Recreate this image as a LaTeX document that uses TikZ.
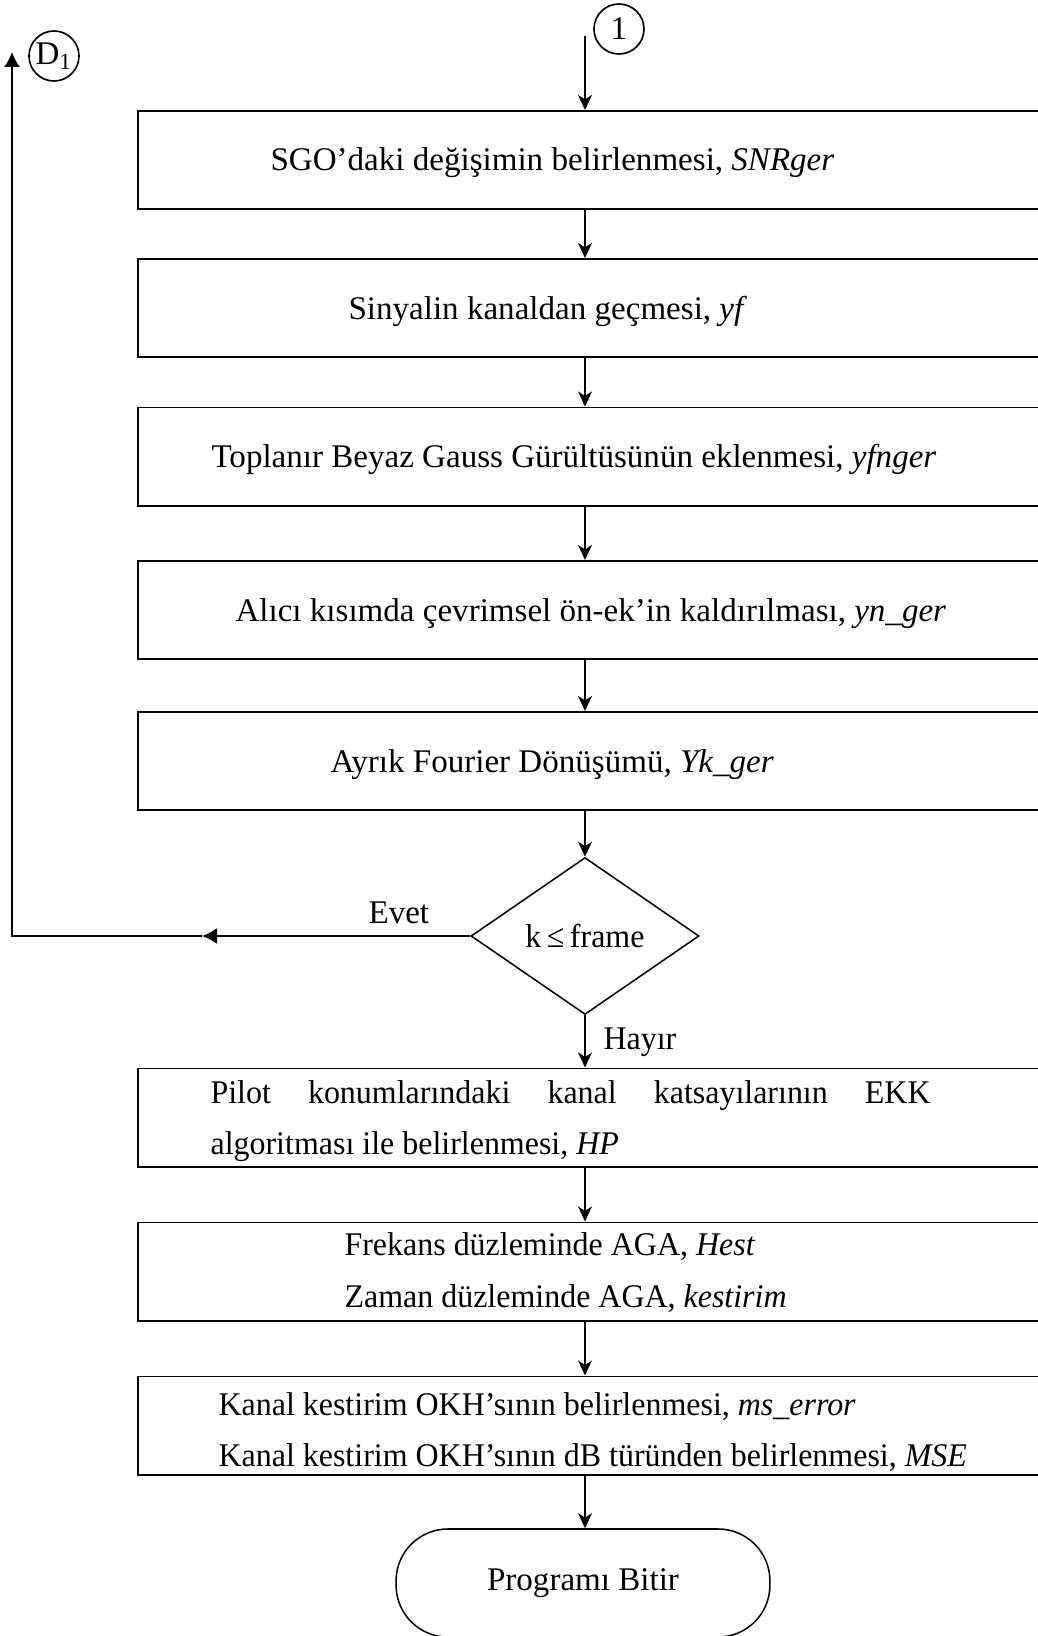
\documentclass[tikz,border=0pt]{standalone}
\usepackage{fontspec}
\setmainfont{Liberation Serif}
\newfontfamily\narrowfont{Liberation Serif}[FakeStretch=0.967]
\usepackage{tikz}
\usetikzlibrary{arrows.meta}
\usetikzlibrary{positioning}
\usetikzlibrary{shapes.geometric}

\begin{document}
\begin{tikzpicture}[x=0.36pt, y=-0.36pt, >={Stealth[length=5.4pt,width=5pt,inset=1.6pt]},
box/.style={draw,line width=0.7pt,inner sep=0pt,minimum width=331.9pt,minimum height=35.3pt},
txt/.style={inner sep=0pt,anchor=base west},
ring/.style={draw,circle,line width=0.6pt,inner sep=0pt,minimum size=18pt},
flow/.style={->,line width=0.7pt},
back/.style={-{Latex[length=5.4pt,width=5.8pt]},line width=0.7pt}]

\fontsize{11.9}{14.3}\selectfont
\useasboundingbox (0,0) rectangle (1038,1636);
\clip (0,0) rectangle (1038,1636);

% baglanti noktalari
\node [ring] (one) at (619,29) {1};
\node [ring] (d1) at (54,56) {D\textsubscript{1}};
\coordinate (axis) at (585,36);

% islem kutulari
\node [box] (b1) at (599,160) {};
\node [box] (b2) at (599,308) {};
\node [box] (b3) at (599,456.5) {};
\node [box] (b4) at (599,610) {};
\node [box] (b5) at (599,761) {};
\node [box] (b6) at (599,1117.5) {};
\node [box] (b7) at (599,1271.5) {};
\node [box] (b8) at (599,1425.5) {};

\node [txt] (t1) at (270,171) {SGO’daki değişimin belirlenmesi, \textit{SNRger}};
\node [txt] (t2) at (348,319) {Sinyalin kanaldan geçmesi, \textit{yf}};
\node [txt] (t3) at (211,467) {Toplanır Beyaz Gauss Gürültüsünün eklenmesi, \textit{yfnger}};
\node [txt] (t4) at (235,621) {Alıcı kısımda çevrimsel ön-ek’in kaldırılması, \textit{yn\_ger}};
\node [txt] (t5) at (330,772) {Ayrık Fourier Dönüşümü, \textit{Yk\_ger}};

% karar
\node [draw,diamond,line width=0.55pt,inner sep=0pt,minimum width=82.1pt,minimum height=56.5pt] (dec) at (585,936) {\narrowfont k\,≤\,frame};
\node [txt] (evet) at (368,923) {Evet};
\node [txt] (hayir) at (603,1049) {\narrowfont Hayır};

\node [txt] (t6a) at (210,1103) {\narrowfont\makebox[259.2pt][s]{Pilot konumlarındaki kanal katsayılarının EKK}};
\node [txt] (t6b) at (210,1154) {\narrowfont algoritması ile belirlenmesi, \textit{HP}};
\node [txt] (t7a) at (344,1255) {\narrowfont Frekans düzleminde AGA, \textit{Hest}};
\node [txt] (t7b) at (344,1307) {\narrowfont Zaman düzleminde AGA, \textit{kestirim}};
\node [txt] (t8a) at (218,1415) {\narrowfont Kanal kestirim OKH’sının belirlenmesi, \textit{ms\_error}};
\node [txt] (t8b) at (218,1466) {\narrowfont Kanal kestirim OKH’sının dB türünden belirlenmesi, \textit{MSE}};

% bitis
\node [draw,line width=0.55pt,rounded corners=18.7pt,minimum width=134.6pt,minimum height=38.9pt,inner sep=0pt] (son) at (583,1583) {Programı Bitir};

% oklar
\draw [flow] (axis) -- (b1.north -| axis);
\draw [flow] (b1.south -| axis) -- (b2.north -| axis);
\draw [flow] (b2.south -| axis) -- (b3.north -| axis);
\draw [flow] (b3.south -| axis) -- (b4.north -| axis);
\draw [flow] (b4.south -| axis) -- (b5.north -| axis);
\draw [flow] (b5.south -| axis) -- (dec.north);
\draw [flow] (dec.south) -- (b6.north -| axis);
\draw [flow] (b6.south -| axis) -- (b7.north -| axis);
\draw [flow] (b7.south -| axis) -- (b8.north -| axis);
\draw [flow] (b8.south -| axis) -- (son.north -| axis);

% geri donus
\coordinate (evetok) at (202,936);
\coordinate (kose) at (12,936);
\coordinate (d1ok) at (12,52);
\draw [back] (dec.west) -- (evetok);
\draw [back] (evetok) -- (kose) -- (d1ok);
\end{tikzpicture}
\end{document}
